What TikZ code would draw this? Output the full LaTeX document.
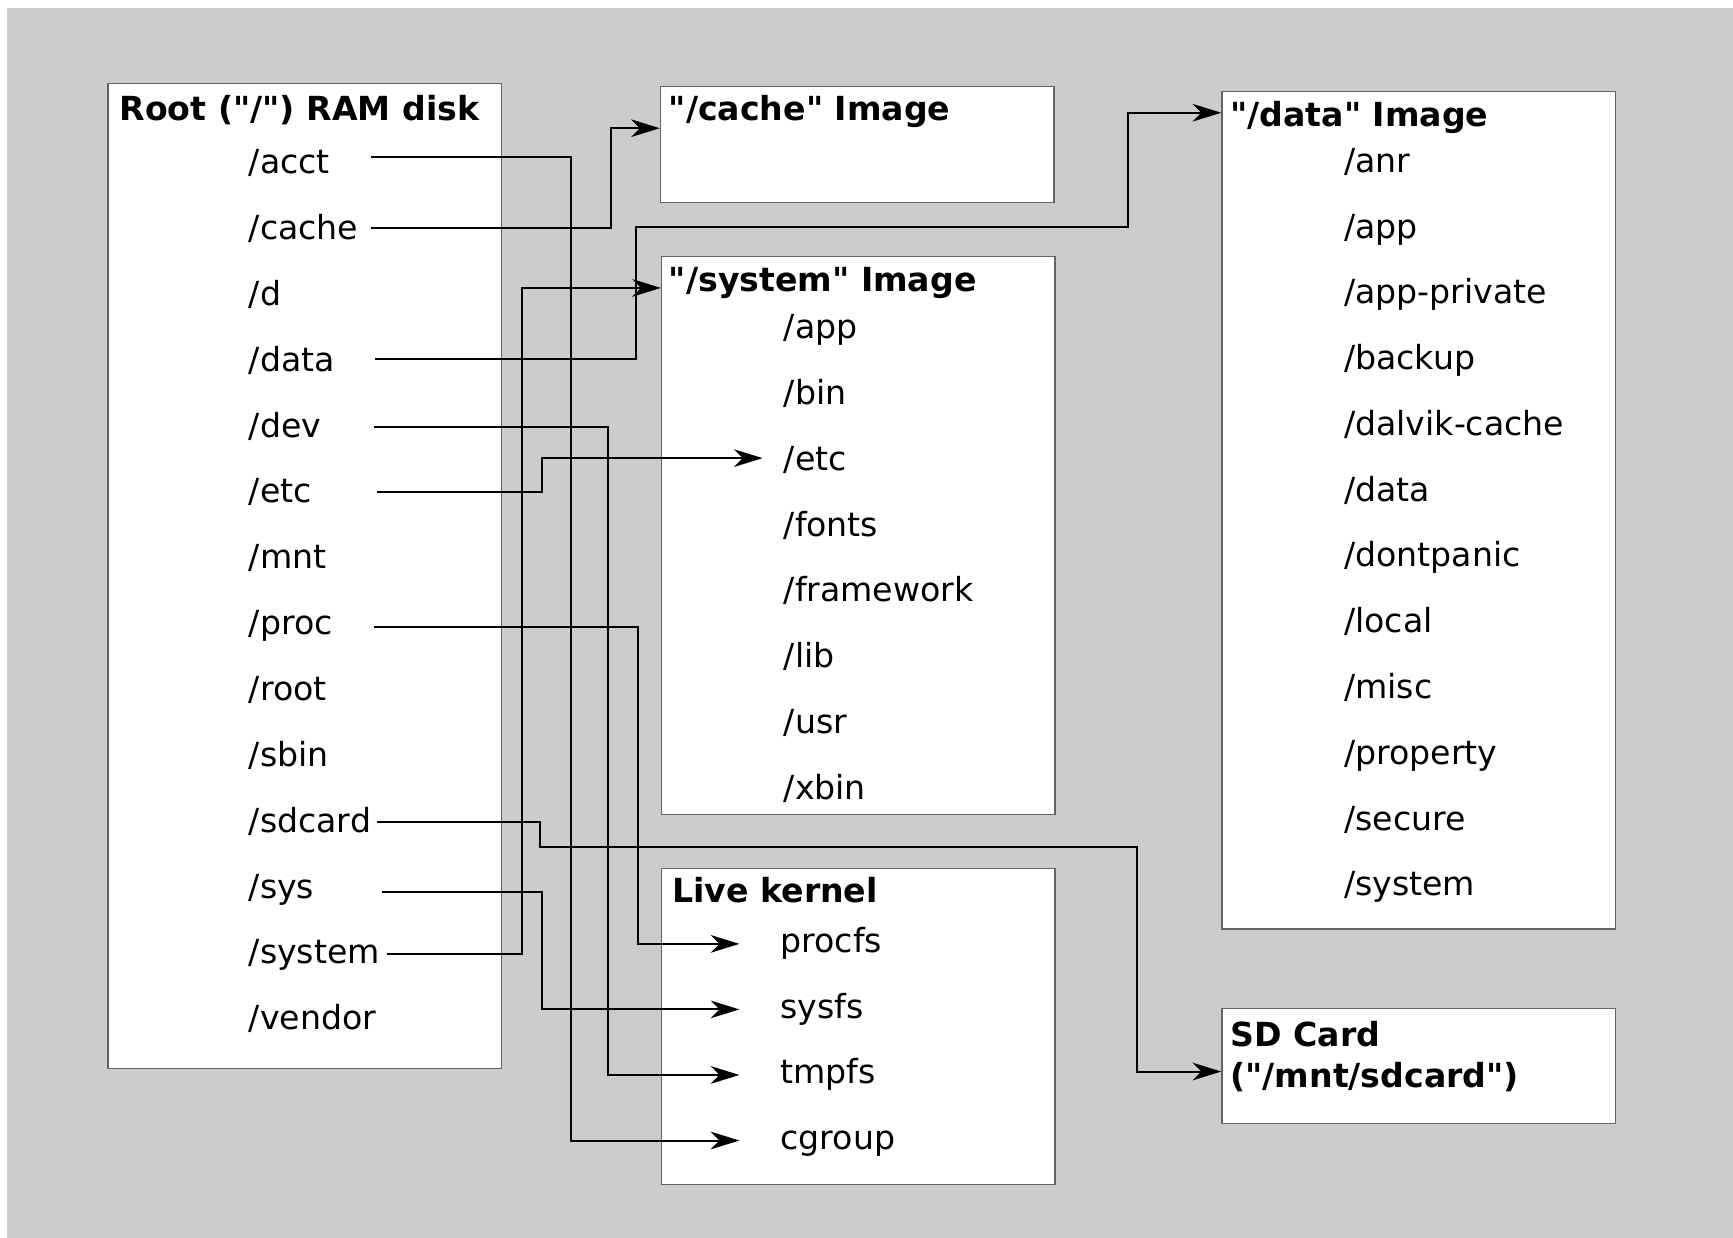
\documentclass[tikz,border=0pt]{standalone}
\usepackage{fontspec}
\setmainfont{DejaVu Sans}
\usetikzlibrary{arrows.meta}
\definecolor{bggray}{RGB}{204,204,204}
\definecolor{boxline}{RGB}{100,100,100}
\newcommand{\sq}{\XeTeXglyph\XeTeXcharglyph"22\relax}
\tikzset{
  itemtext/.style={anchor=west, inner sep=0pt, text height=22pt, text depth=0pt, font=\fontsize{30pt}{36pt}\selectfont},
  titletext/.style={itemtext, font=\fontsize{30pt}{36pt}\selectfont\bfseries},
  fsbox/.style={draw=boxline, fill=white, line width=1.2pt, anchor=north west, inner sep=0pt},
  conn/.style={draw=black, line width=1.8pt, -{Stealth[length=26pt,width=16pt,inset=8pt]}},
}
\begin{document}
\begin{tikzpicture}[x=1pt,y=-1pt]
\fill[white] (0,0) rectangle (1568,1120);
\fill[bggray] (6,7) rectangle (1568,1120);
\useasboundingbox (0,0) rectangle (1568,1120);

% boxes
\node[fsbox, minimum width=356pt, minimum height=891pt] (rootbox) at (97,75) {};
\node[fsbox, minimum width=356pt, minimum height=105pt] (cachebox) at (597,77.5) {};
\node[fsbox, minimum width=356pt, minimum height=505pt] (sysbox) at (598,231.5) {};
\node[fsbox, minimum width=356pt, minimum height=286pt] (kernbox) at (598,785) {};
\node[fsbox, minimum width=356pt, minimum height=758pt] (databox) at (1105,82) {};
\node[fsbox, minimum width=356pt, minimum height=104pt] (sdbox) at (1105,912) {};

% titles
\node[titletext] (roottitle) at (108,98) {Root (\sq/\sq) RAM disk};
\node[titletext] (cachetitle) at (605,98) {\sq/cache\sq{} Image};
\node[titletext] (systitle) at (605,253) {\sq/system\sq{} Image};
\node[titletext] (kerntitle) at (608,806) {Live kernel};
\node[titletext] (datatitle) at (1113,103) {\sq/data\sq{} Image};
\node[titletext] (sdtitlea) at (1113,936) {SD Card};
\node[titletext] (sdtitleb) at (1113,973) {(\sq/mnt/sdcard\sq)};

% root items
\foreach \n [count=\i from 0] in {acct,cache,d,data,dev,etc,mnt,proc,root,sbin,sdcard,sys,system,vendor}
  \node[itemtext] (r-\n) at (225,146+59.6*\i) {/\n};
% system items
\foreach \n [count=\i from 0] in {app,bin,etc,fonts,framework,lib,usr,xbin}
  \node[itemtext] (s-\n) at (709,295.5+59.5*\i) {/\n};
% data items
\foreach \n [count=\i from 0] in {anr,app,app-private,backup,dalvik-cache,data,dontpanic,local,misc,property,secure,system}
  \node[itemtext] (d-\n) at (1216,145+59.5*\i) {/\n};
% kernel items
\foreach \n [count=\i from 0] in {procfs,sysfs,tmpfs,cgroup}
  \node[itemtext] (k-\n) at (706,851+59.3*\i) {\n};

% connector free ends
\coordinate (st-acct) at (336,142);
\coordinate (st-cache) at (336,206.5);
\coordinate (st-data) at (339,325);
\coordinate (st-dev) at (338,386);
\coordinate (st-etc) at (341,445.5);
\coordinate (st-proc) at (338,567.5);
\coordinate (st-sdcard) at (341,743.5);
\coordinate (st-sys) at (346,807);
\coordinate (st-system) at (350,863.5);

% connectors
\draw[conn, shorten >=37pt] (st-acct) -- (517,142) |- ([yshift=-3pt]k-cgroup.west);
\draw[conn] (st-cache) -- (553,206.5) |- ([yshift=-38.5pt]cachebox.north west);
\draw[conn] (st-data) -- (575.5,325) |- (1021,205) |- ([yshift=-20pt]databox.north west);
\draw[conn, shorten >=37pt] (st-dev) -- (550.5,386) |- ([yshift=-3pt]k-tmpfs.west);
\draw[conn, shorten >=19pt] (st-etc) -- (490.7,445.5) |- (s-etc.west);
\draw[conn, shorten >=37pt] (st-proc) -- (577.5,567.5) |- ([yshift=-3pt]k-procfs.west);
\draw[conn] (st-sdcard) -- (488.5,743.5) |- (1029,766.5) |- ([yshift=-57.5pt]sdbox.north west);
\draw[conn, shorten >=37pt] (st-sys) -- (490.7,807) |- ([yshift=-3pt]k-sysfs.west);
\draw[conn] (st-system) -- (472.5,863.5) |- ([yshift=-29pt]sysbox.north west);
\end{tikzpicture}
\end{document}
